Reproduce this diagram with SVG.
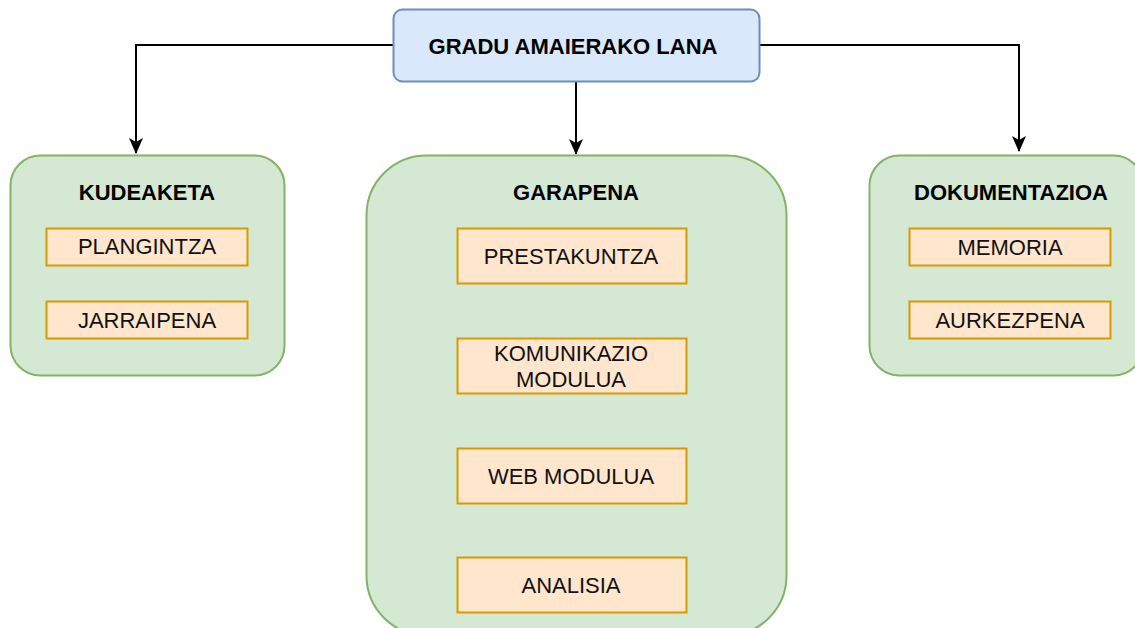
<svg xmlns="http://www.w3.org/2000/svg" width="1135" height="628" viewBox="0 0 1135 628">
  <style>
    .root { fill: #dae8fc; stroke: #6c8ebf; stroke-width: 2; }
    .group { fill: #d5e8d4; stroke: #82b366; stroke-width: 2; }
    .item { fill: #ffe6cc; stroke: #d79b00; stroke-width: 2; }
    .edge { fill: none; stroke: #000; stroke-width: 2; }
    text { font-family: "Liberation Sans", Arial, sans-serif; fill: #000; text-anchor: middle; }
    .title { font-size: 22px; font-weight: bold; }
    .label { font-size: 22px; fill: #111; }
  </style>
  <defs>
    <marker id="arrow" viewBox="0 0 16 14" refX="15" refY="7" markerWidth="16" markerHeight="14" markerUnits="userSpaceOnUse" orient="auto">
      <path d="M0,0 L16,7 L0,14 L4,7 Z" fill="#000"/>
    </marker>
  </defs>
  <rect width="1135" height="628" fill="#fff"/>

  <g id="connectors">
    <path class="edge" d="M393,45 H136 V153" marker-end="url(#arrow)"/>
    <path class="edge" d="M576,81 V154" marker-end="url(#arrow)"/>
    <path class="edge" d="M759,45 H1019 V151" marker-end="url(#arrow)"/>
  </g>

  <g id="gradu-amaierako-lana">
    <rect class="root" x="393.5" y="9.5" width="366" height="72" rx="9"/>
    <text class="title" x="573" y="54">GRADU AMAIERAKO LANA</text>
  </g>

  <g id="kudeaketa">
    <rect class="group" x="10.5" y="155.5" width="274" height="220" rx="30"/>
    <text class="title" x="147" y="200">KUDEAKETA</text>
  </g>
  <g id="plangintza">
    <rect class="item" x="46.5" y="228.5" width="201" height="37"/>
    <text class="label" x="147" y="254">PLANGINTZA</text>
  </g>
  <g id="jarraipena">
    <rect class="item" x="46.5" y="301.5" width="201" height="37"/>
    <text class="label" x="147" y="328">JARRAIPENA</text>
  </g>

  <g id="garapena">
    <rect class="group" x="366.5" y="155.5" width="420" height="480" rx="60"/>
    <text class="title" x="576" y="200">GARAPENA</text>
  </g>
  <g id="prestakuntza">
    <rect class="item" x="457.5" y="228.5" width="229" height="55"/>
    <text class="label" x="571" y="264">PRESTAKUNTZA</text>
  </g>
  <g id="komunikazio-modulua">
    <rect class="item" x="457.5" y="338.5" width="229" height="55"/>
    <text class="label" x="571" y="361">KOMUNIKAZIO</text>
    <text class="label" x="571" y="387">MODULUA</text>
  </g>
  <g id="web-modulua">
    <rect class="item" x="457.5" y="448.5" width="229" height="55"/>
    <text class="label" x="571" y="484">WEB MODULUA</text>
  </g>
  <g id="analisia">
    <rect class="item" x="457.5" y="557.5" width="229" height="55"/>
    <text class="label" x="571" y="593">ANALISIA</text>
  </g>

  <g id="dokumentazioa">
    <rect class="group" x="869.5" y="155.5" width="274" height="220" rx="30"/>
    <text class="title" x="1011" y="200">DOKUMENTAZIOA</text>
  </g>
  <g id="memoria">
    <rect class="item" x="909.5" y="228.5" width="201" height="37"/>
    <text class="label" x="1010" y="255">MEMORIA</text>
  </g>
  <g id="aurkezpena">
    <rect class="item" x="909.5" y="301.5" width="201" height="37"/>
    <text class="label" x="1010" y="328">AURKEZPENA</text>
  </g>
</svg>
